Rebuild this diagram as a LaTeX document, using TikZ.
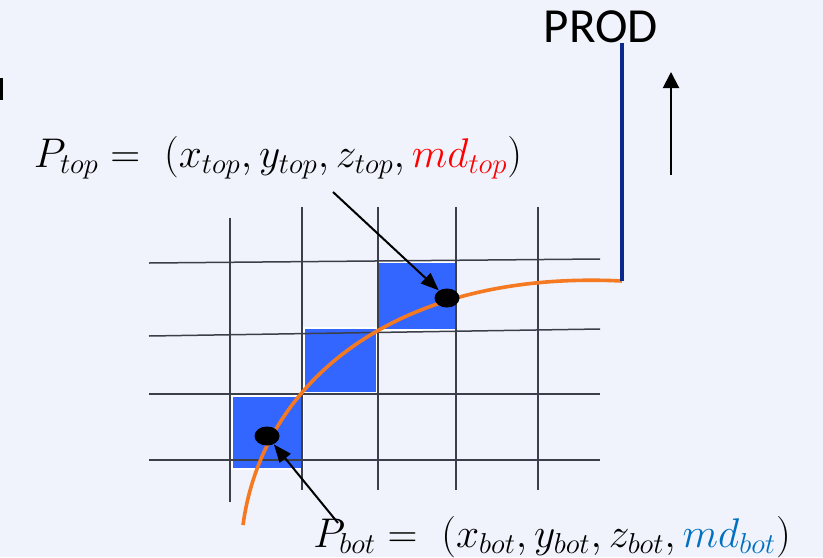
\documentclass[tikz,border=0pt]{standalone}
\usepackage{fontspec}
\usepackage{xcolor}
\usepackage{tikz}
\usetikzlibrary{arrows.meta,positioning,shapes.geometric}
\newfontfamily\prodfont{Carlito}
\definecolor{bgpaper}{RGB}{240,243,251}
\definecolor{cellblue}{RGB}{51,102,255}
\definecolor{curveorange}{RGB}{244,121,32}
\definecolor{prodnavy}{RGB}{12,40,140}
\definecolor{gridgray}{RGB}{58,63,74}
\definecolor{mdblue}{RGB}{0,112,192}
\tikzset{
    gridline/.style={
        draw=gridgray,
        line width=0.75pt
    },
    cellbox/.style={
        fill=cellblue,
        draw=white,
        line width=1pt
    },
    wellpath/.style={
        draw=curveorange,
        line width=1.8pt
    },
    prodline/.style={
        draw=prodnavy,
        line width=1.7pt
    },
    hitdot/.style={
        ellipse,
        fill=black,
        inner sep=0pt,
        minimum width=12.5pt,
        minimum height=9.5pt
    },
    mathlabel/.style={
        inner sep=0pt,
        font=\fontsize{20.5}{24}\selectfont
    },
    pointer/.style={
        -{Triangle[length=9pt,width=7pt]},
        line width=1pt
    },
    flowarrow/.style={
        -{Triangle[length=8pt,width=8pt]},
        line width=1pt
    }
}

\begin{document}
\begin{tikzpicture}[x=0.5pt,y=-0.5pt]
        \fill[bgpaper] (0,0) rectangle (823,557);
        \useasboundingbox (0,0) rectangle (823,557);

        % stroke cut off at the left edge
        \fill[black] (0,78) rectangle (2.5,100);

        % highlighted cells
        \path[cellbox] (378,262) rectangle (456,330);
        \path[cellbox] (304,328) rectangle (377,393);
        \path[cellbox] (232,396) rectangle (303,469);

        % grid
        \draw[gridline] (149,263) -- (600,259);
        \draw[gridline] (149,336) -- (600,329);
        \draw[gridline] (149,394) -- (600,394);
        \draw[gridline] (149,460) -- (600,460);
        \draw[gridline] (230,218) -- (230,502);
        \foreach \gx in {302,378,456,538}
            \draw[gridline] (\gx,207) -- (\gx,490);

        % well trajectory
        \coordinate (curvestart) at (243,525);
        \coordinate (curveend) at (622,281);
        \draw[wellpath] (curvestart) .. controls (263,378) and (400,270) .. (curveend);

        \node[hitdot] (topdot) at (447,298) {};
        \node[hitdot] (botdot) at (267,436) {};

        % production side
        \node[font=\prodfont\fontsize{24.5}{28}\selectfont, inner sep=0pt] (prod) at (601,27) {PROD};
        \draw[prodline] (curveend) -- (curveend |- prod.south);
        \coordinate (uptail) at (671,175);
        \coordinate (uphead) at (671,72);
        \draw[flowarrow] (uptail) -- (uphead);

        % point labels
        \node[mathlabel] (ptop) at (278,158) {$P_{top} =\ \bigl(x_{top}, y_{top}, z_{top}, \textcolor{red}{md_{top}}\bigr)$};
        \node[mathlabel] (pbot) at (552,537) {$P_{bot} =\ \bigl(x_{bot}, y_{bot}, z_{bot}, \textcolor{mdblue}{md_{bot}}\bigr)$};

        \coordinate (topstart) at (333,192);
        \coordinate (botstart) at (338,523);
        \draw[pointer] (topstart) -- (topdot);
        \draw[pointer] (botstart) -- (botdot);
    \end{tikzpicture}
\end{document}
